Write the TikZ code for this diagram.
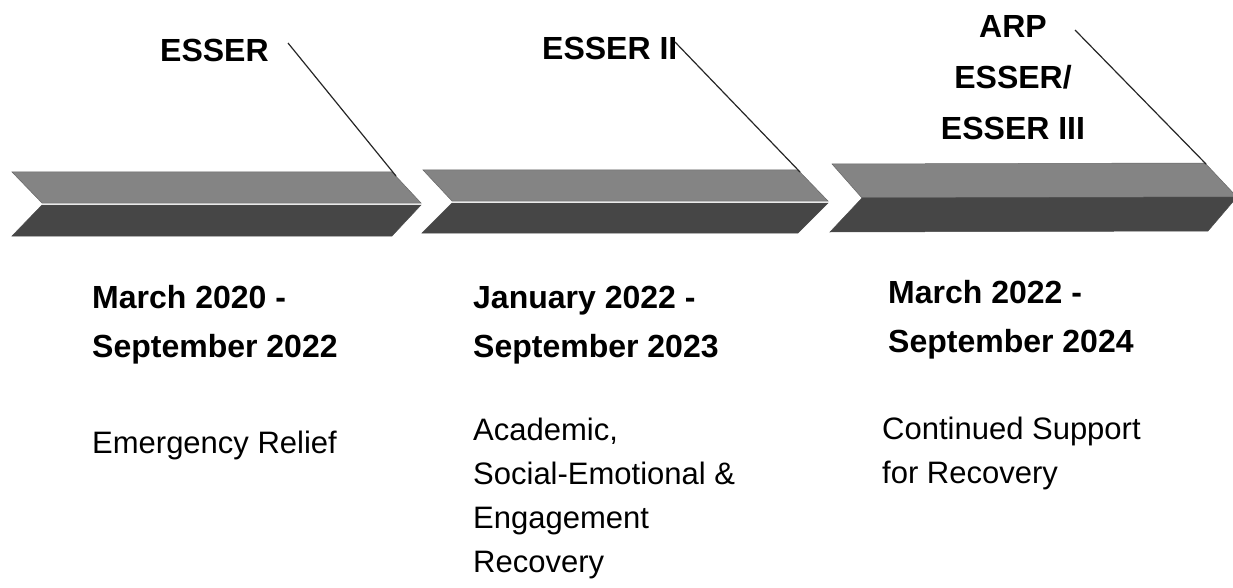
\documentclass[tikz,border=0pt]{standalone}
\usepackage{fontspec}
\setmainfont{Liberation Sans}
\definecolor{chevup}{RGB}{132,132,132}
\definecolor{chevdown}{RGB}{70,70,70}
\tikzset{
  fund/.style={font=\fontsize{32}{51}\selectfont\bfseries, align=center, inner sep=0pt},
  period/.style={font=\fontsize{32}{49}\selectfont\bfseries, align=left, inner sep=0pt, anchor=base west},
  aim/.style={font=\fontsize{31}{44}\selectfont, align=left, inner sep=0pt, anchor=base west},
  leader/.style={draw=black!85, line width=1.2pt},
  upper/.style={fill=chevup, draw=black!60, line width=0.5pt},
  lower/.style={fill=chevdown, draw=black!70, line width=0.5pt}
}
\begin{document}
\begin{tikzpicture}[x=1pt, y=-1pt]
	\useasboundingbox (0,0) rectangle (1233,588);
	
	\draw[upper] (12,172) -- (392,172) -- (421,203) -- (42,203) -- cycle;
	\draw[lower] (42,205) -- (421,205) -- (392,236) -- (12,236) -- cycle;
	\draw[upper] (423,170) -- (798,170) -- (828,201) -- (452,201) -- cycle;
	\draw[lower] (452,203) -- (828,203) -- (798,233) -- (422,233) -- cycle;
	\draw[upper] (832,164) -- (1205,163) -- (1237,197) -- (862,198) -- cycle;
	\draw[lower] (862,198) -- (1237,197) -- (1208,231) -- (830,232) -- cycle;
	
	\node[fund, anchor=base west] (esser) at (160,62) {ESSER};
	\node[fund, anchor=base west] (esserii) at (542,60) {ESSER II};
	\node[fund, anchor=base] (esseriii) at (1013,140) {ARP\\ESSER/\\ESSER III};
	
	\coordinate (s1) at (288,43);
	\coordinate (s2) at (675,42);
	\coordinate (s3) at (1075,30);
	\coordinate (t1) at (396,176);
	\coordinate (t2) at (800,172);
	\coordinate (t3) at (1206,164);
	\draw[leader] (s1) -- (t1);
	\draw[leader] (s2) -- (t2);
	\draw[leader] (s3) -- (t3);
	
	\node[period] (p1) at (92,357) {March 2020 -\\September 2022};
	\node[period] (p2) at (473,357) {January 2022 -\\September 2023};
	\node[period] (p3) at (888,352) {March 2022 -\\September 2024};
	
	\node[aim] (a1) at (92,453) {Emergency Relief};
	\node[aim] (a2) at (473,572) {Academic,\\Social-Emotional \&\\Engagement\\Recovery};
	\node[aim] (a3) at (882,483) {Continued Support\\for Recovery};
\end{tikzpicture}
\end{document}
